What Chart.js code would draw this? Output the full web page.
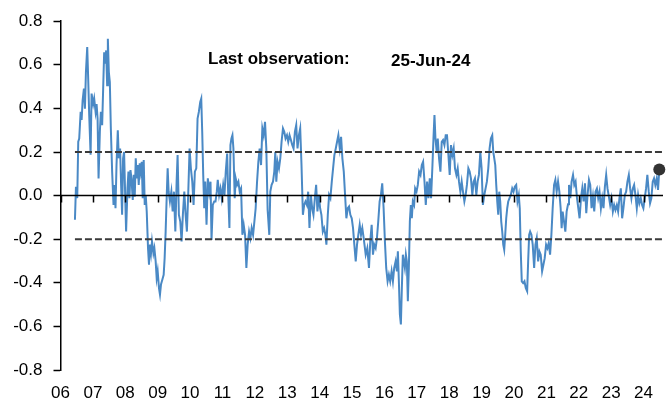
<!DOCTYPE html>
<html>
<head>
<meta charset="utf-8">
<script src="https://cdn.jsdelivr.net/npm/chart.js@4.4.1/dist/chart.umd.min.js"></script>
<style>
  html, body { margin: 0; padding: 0; background: #fff; }
  #wrap { width: 669px; height: 405px; }
</style>
</head>
<body>
<div id="wrap"><canvas id="chart" width="669" height="405"></canvas></div>
<script>
// observation dates as decimal years
const years = [
  2006.446,2006.477,2006.517,2006.548,2006.578,2006.622,2006.652,2006.683,2006.723,2006.754,2006.785,2006.825,2006.855,2006.886,2006.929,2006.960,
  2007.009,2007.040,2007.083,2007.114,2007.145,2007.175,2007.215,2007.246,2007.286,2007.317,2007.348,2007.378,2007.409,2007.440,2007.462,2007.492,2007.523,2007.554,2007.594,2007.637,2007.668,2007.698,2007.729,2007.769,2007.800,2007.840,2007.871,2007.902,2007.932,2007.963,2007.994,
  2008.025,2008.068,2008.098,2008.129,2008.160,2008.191,2008.231,2008.262,2008.292,2008.323,2008.354,2008.385,2008.415,2008.446,2008.477,2008.508,2008.538,2008.569,2008.600,2008.631,2008.662,2008.702,2008.732,2008.763,2008.794,2008.825,2008.868,2008.898,2008.938,2008.969,
  2009.000,2009.040,2009.071,2009.102,2009.145,2009.185,2009.215,2009.246,2009.277,2009.308,2009.338,2009.378,2009.422,2009.462,2009.502,2009.545,2009.585,2009.615,2009.655,2009.698,2009.738,2009.778,2009.822,2009.862,2009.902,2009.945,2009.985,
  2010.025,2010.068,2010.108,2010.148,2010.192,2010.231,2010.271,2010.314,2010.345,2010.375,2010.406,2010.437,2010.468,2010.508,2010.548,2010.591,2010.631,2010.662,2010.702,2010.745,2010.785,2010.825,2010.855,2010.898,2010.938,2010.978,
  2011.022,2011.062,2011.102,2011.145,2011.175,2011.215,2011.246,2011.277,2011.308,2011.338,2011.378,2011.409,2011.452,2011.492,2011.532,2011.575,2011.615,2011.655,2011.698,2011.738,2011.778,2011.822,2011.862,2011.902,2011.945,2011.985,
  2012.025,2012.068,2012.108,2012.148,2012.191,2012.231,2012.271,2012.314,2012.354,2012.394,2012.446,2012.477,2012.517,2012.560,2012.600,2012.631,2012.662,2012.702,2012.745,2012.785,2012.825,2012.868,2012.908,2012.948,2012.991,
  2013.031,2013.071,2013.114,2013.154,2013.194,2013.237,2013.277,2013.317,2013.360,2013.400,2013.440,2013.483,2013.523,2013.563,2013.606,2013.646,2013.686,2013.729,2013.769,2013.809,2013.852,2013.892,2013.932,2013.975,
  2014.015,2014.055,2014.098,2014.138,2014.178,2014.209,2014.252,2014.292,2014.332,2014.375,2014.415,2014.455,2014.498,2014.538,2014.578,2014.622,2014.662,2014.702,2014.745,2014.785,2014.825,2014.868,2014.908,2014.948,2014.991,
  2015.031,2015.071,2015.114,2015.154,2015.194,2015.237,2015.277,2015.317,2015.360,2015.422,2015.471,2015.523,2015.563,2015.606,2015.646,2015.686,2015.729,2015.769,2015.809,2015.852,2015.892,2015.932,2015.975,
  2016.015,2016.055,2016.098,2016.138,2016.178,2016.222,2016.262,2016.302,2016.345,2016.385,2016.415,2016.446,2016.477,2016.508,2016.538,2016.569,2016.600,2016.631,2016.662,2016.692,2016.723,2016.754,2016.785,2016.815,2016.846,2016.877,2016.917,2016.948,2016.991,
  2017.031,2017.071,2017.114,2017.154,2017.194,2017.237,2017.277,2017.317,2017.360,2017.400,2017.440,2017.483,2017.514,2017.545,2017.575,2017.615,2017.646,2017.686,2017.729,2017.769,2017.809,2017.852,2017.892,2017.932,2017.975,
  2018.015,2018.055,2018.098,2018.138,2018.178,2018.222,2018.262,2018.302,2018.345,2018.385,2018.425,2018.468,2018.508,2018.548,2018.591,2018.631,2018.671,2018.714,2018.754,2018.794,2018.837,2018.877,2018.917,2018.960,
  2019.000,2019.040,2019.083,2019.123,2019.163,2019.206,2019.246,2019.286,2019.329,2019.360,2019.391,2019.422,2019.452,2019.483,2019.514,2019.545,2019.575,2019.606,2019.637,2019.668,2019.698,2019.729,2019.760,2019.791,2019.822,2019.862,2019.902,2019.945,2019.985,
  2020.025,2020.068,2020.108,2020.148,2020.178,2020.209,2020.240,2020.283,2020.323,2020.363,2020.406,2020.437,2020.468,2020.498,2020.538,2020.578,2020.622,2020.662,2020.702,2020.745,2020.785,2020.825,2020.868,2020.908,2020.948,2020.991,
  2021.031,2021.071,2021.114,2021.154,2021.194,2021.237,2021.277,2021.317,2021.360,2021.400,2021.440,2021.471,2021.502,2021.545,2021.585,2021.625,2021.668,2021.698,2021.738,2021.778,2021.822,2021.862,2021.902,2021.945,2021.985,
  2022.025,2022.068,2022.108,2022.148,2022.191,2022.231,2022.271,2022.314,2022.354,2022.394,2022.437,2022.477,2022.517,2022.560,2022.600,2022.640,2022.683,2022.723,2022.763,2022.806,2022.846,2022.886,2022.929,2022.969,
  2023.009,2023.052,2023.092,2023.132,2023.175,2023.215,2023.255,2023.298,2023.338,2023.378,2023.422,2023.462,2023.502,2023.545,2023.585,2023.625,2023.668,2023.708,2023.748,2023.791,2023.831,2023.871,2023.914,2023.954,2023.994,
  2024.037,2024.077,2024.117,2024.160,2024.200,2024.240,2024.283,2024.323,2024.363,2024.406,2024.446,2024.486
];

const values = [
  -0.111,0.041,-0.012,0.247,0.262,0.384,0.347,0.437,0.491,0.399,0.567,0.681,0.536,0.37,0.187,0.468,
  0.42,0.445,0.384,0.42,0.353,0.079,0.293,0.384,0.323,0.49,0.658,0.605,0.666,0.506,0.719,0.567,0.521,0.308,0.11,-0.043,0.049,-0.058,0.14,0.3,0.171,0.216,0.049,-0.088,0.171,0.2,0.018,
  -0.165,0.033,0.11,-0.012,0.117,0.079,-0.02,0.095,-0.005,0.171,0.079,0.14,0.049,0.148,0.11,0.155,-0.012,0.163,-0.043,0.003,-0.073,-0.241,-0.317,-0.225,-0.264,-0.21,-0.264,-0.241,-0.302,-0.378,
  -0.347,-0.424,-0.454,-0.408,-0.385,-0.363,-0.287,-0.165,-0.012,0.125,0.018,-0.027,0.018,-0.073,0.018,-0.165,0.064,0.186,-0.088,-0.119,-0.21,-0.088,0.018,-0.088,-0.165,0.018,0.216,
  0.125,0.064,-0.043,0.11,0.125,0.353,0.384,0.43,0.445,0.293,0.095,-0.058,0.064,-0.134,0.079,0.018,0.064,-0.203,-0.043,-0.027,-0.027,0.018,0.072,0.003,0.033,-0.012,
  0.049,0.003,0.11,0.193,0.018,-0.149,0.232,0.262,0.277,0.216,-0.012,0.079,0.049,0.064,0.018,0.033,-0.18,-0.134,-0.18,-0.332,-0.225,-0.165,-0.195,-0.149,-0.18,-0.119,
  -0.058,0.064,0.155,0.216,0.14,0.308,0.277,0.338,0.216,-0.065,-0.18,0.018,0.049,0.064,0.11,0.2,0.064,0.155,0.125,0.171,0.247,0.308,0.293,0.262,0.277,
  0.247,0.277,0.255,0.232,0.216,0.293,0.323,0.216,0.277,0.308,0.14,-0.088,-0.043,-0.027,-0.043,0.018,-0.149,0.003,-0.058,-0.088,-0.012,0.049,-0.073,0.003,
  -0.058,-0.088,-0.165,-0.149,-0.18,-0.225,-0.088,0.003,-0.012,0.064,0.125,0.186,0.216,0.247,0.277,0.216,0.27,0.171,0.11,0.003,-0.104,-0.058,-0.05,-0.088,-0.104,
  -0.149,-0.225,-0.302,-0.225,-0.18,-0.134,-0.18,-0.149,-0.195,-0.271,-0.241,-0.332,-0.21,-0.134,-0.271,-0.225,-0.241,-0.195,-0.119,-0.027,0.003,0.056,-0.058,
  -0.21,-0.332,-0.393,-0.363,-0.393,-0.347,-0.393,-0.332,-0.302,-0.347,-0.256,-0.393,-0.545,-0.591,-0.424,-0.271,-0.302,-0.332,-0.271,-0.302,-0.485,-0.332,-0.119,-0.043,-0.104,-0.027,-0.043,0.033,0.018,
  0.049,0.11,0.095,0.14,0.155,0.064,-0.043,0.064,-0.012,0.079,-0.012,0.14,0.262,0.369,0.262,0.2,0.262,0.171,0.11,0.247,0.255,0.232,0.277,0.277,0.186,
  0.095,0.232,0.186,0.216,0.125,0.095,0.125,0.064,0.018,0.064,0.018,-0.027,0.003,0.05,0.125,0.11,0.079,0.003,0.064,0.079,0.003,0.064,0.095,0.2,
  0.125,-0.043,0.003,0.033,0.064,0.125,0.216,0.262,0.277,0.2,0.171,0.14,0.049,-0.027,-0.088,0.018,-0.027,-0.119,-0.165,-0.225,-0.248,-0.18,-0.104,-0.058,-0.027,-0.012,0.003,0.033,0.018,
  0.041,0.049,-0.027,0.003,-0.058,-0.256,-0.393,-0.401,-0.393,-0.424,-0.439,-0.302,-0.18,-0.165,-0.18,-0.225,-0.332,-0.225,-0.195,-0.302,-0.256,-0.271,-0.347,-0.317,-0.287,-0.225,
  -0.241,-0.218,-0.271,-0.18,-0.058,0.049,0.072,0.018,0.064,0.018,-0.058,-0.149,-0.073,-0.119,-0.165,-0.073,-0.04,0.049,-0.012,0.064,0.095,0.049,0.064,-0.012,-0.058,
  -0.104,-0.012,0.033,-0.027,0.056,-0.081,0.003,0.072,0.049,-0.058,-0.005,-0.073,0.018,0.033,-0.012,0.018,-0.058,-0.012,-0.058,0.041,0.095,0.033,-0.005,-0.043,
  -0.012,-0.073,-0.043,-0.066,-0.043,-0.073,-0.012,0.033,-0.104,-0.058,0.003,0.018,0.064,0.095,0.033,-0.012,0.033,0.049,0.003,-0.058,0.003,-0.035,-0.012,-0.043,-0.058,
  -0.012,0.033,0.095,0.018,-0.035,-0.012,0.064,0.079,0.049,0.079,0.026,0.12
];

const yTicks = [-0.8, -0.6, -0.4, -0.2, 0, 0.2, 0.4, 0.6, 0.8];
const xTicks = [2006, 2007, 2008, 2009, 2010, 2011, 2012, 2013, 2014, 2015, 2016, 2017, 2018, 2019, 2020, 2021, 2022, 2023, 2024];
const bandLevels = [0.2, -0.2];
const noteLabel = "Last observation:";
const noteDate = "25-Jun-24";

const FONT = "'Liberation Sans', Arial, sans-serif";
const xMax = 2024.6;
Chart.defaults.font.family = FONT;
Chart.defaults.color = "#000";

// zero line with the year tick marks hanging off it
const zeroAxis = {
  id: "zeroAxis",
  afterDatasetsDraw(chart) {
    const { ctx, chartArea, scales } = chart;
    const y0 = scales.y.getPixelForValue(0);
    ctx.save();
    ctx.strokeStyle = "#000";
    ctx.lineWidth = 1.5;
    ctx.beginPath();
    ctx.moveTo(chartArea.left, y0);
    ctx.lineTo(chartArea.right, y0);
    xTicks.forEach((t) => {
      const px = Math.round(scales.x.getPixelForValue(t)) + 0.5;
      ctx.moveTo(px, y0);
      ctx.lineTo(px, y0 + 7);
    });
    ctx.stroke();
    ctx.restore();
  },
};

const note = {
  id: "note",
  afterDraw(chart) {
    const ctx = chart.ctx;
    ctx.save();
    ctx.fillStyle = "#000";
    ctx.font = "bold 17px " + FONT;
    ctx.textBaseline = "alphabetic";
    ctx.fillText(noteLabel, 208, 64);
    ctx.fillText(noteDate, 391, 65.5);
    ctx.restore();
  },
};

const series = years.map((yr, i) => ({ x: yr, y: values[i] }));
const last = series[series.length - 1];

const bandSets = bandLevels.map((lvl) => ({
  data: [{ x: years[0], y: lvl }, { x: xMax, y: lvl }],
  borderColor: "#3a3a3a",
  borderWidth: 2,
  borderDash: [7, 3],
  pointRadius: 0,
  order: 2,
}));

new Chart(document.getElementById("chart").getContext("2d"), {
  type: "line",
  data: {
    datasets: [
      {
        data: [last],
        showLine: false,
        clip: false,
        pointRadius: 6,
        pointBackgroundColor: "#333333",
        pointBorderWidth: 0,
        order: 1,
      },
      ...bandSets,
      {
        data: series,
        borderColor: "#4a89c5",
        borderWidth: 2,
        pointRadius: 0,
        tension: 0,
        order: 3,
      },
    ],
  },
  options: {
    responsive: false,
    animation: false,
    layout: { padding: { left: 13, right: 4, top: 20, bottom: 0 } },
    plugins: { legend: { display: false }, tooltip: { enabled: false } },
    scales: {
      x: {
        type: "linear",
        min: 2006,
        max: xMax,
        afterBuildTicks: (s) => { s.ticks = xTicks.map((v) => ({ value: v })); },
        afterFit: (s) => { s.height = 35; },
        grid: { display: false, drawTicks: false },
        border: { display: false },
        ticks: {
          padding: 13,
          font: { size: 17 },
          color: "#000",
          maxRotation: 0,
          autoSkip: false,
          callback: (v) => String(v).slice(2),
        },
      },
      y: {
        min: -0.8,
        max: 0.8,
        afterBuildTicks: (s) => { s.ticks = yTicks.map((v) => ({ value: v })); },
        afterFit: (s) => { s.width = 47.5; },
        grid: { drawOnChartArea: false, tickLength: 7, tickColor: "#000", tickWidth: 1.5 },
        border: { color: "#000", width: 1.5 },
        ticks: {
          padding: 11,
          font: { size: 17 },
          color: "#000",
          callback: (v) => v.toFixed(1),
        },
      },
    },
  },
  plugins: [zeroAxis, note],
});
</script>
</body>
</html>
